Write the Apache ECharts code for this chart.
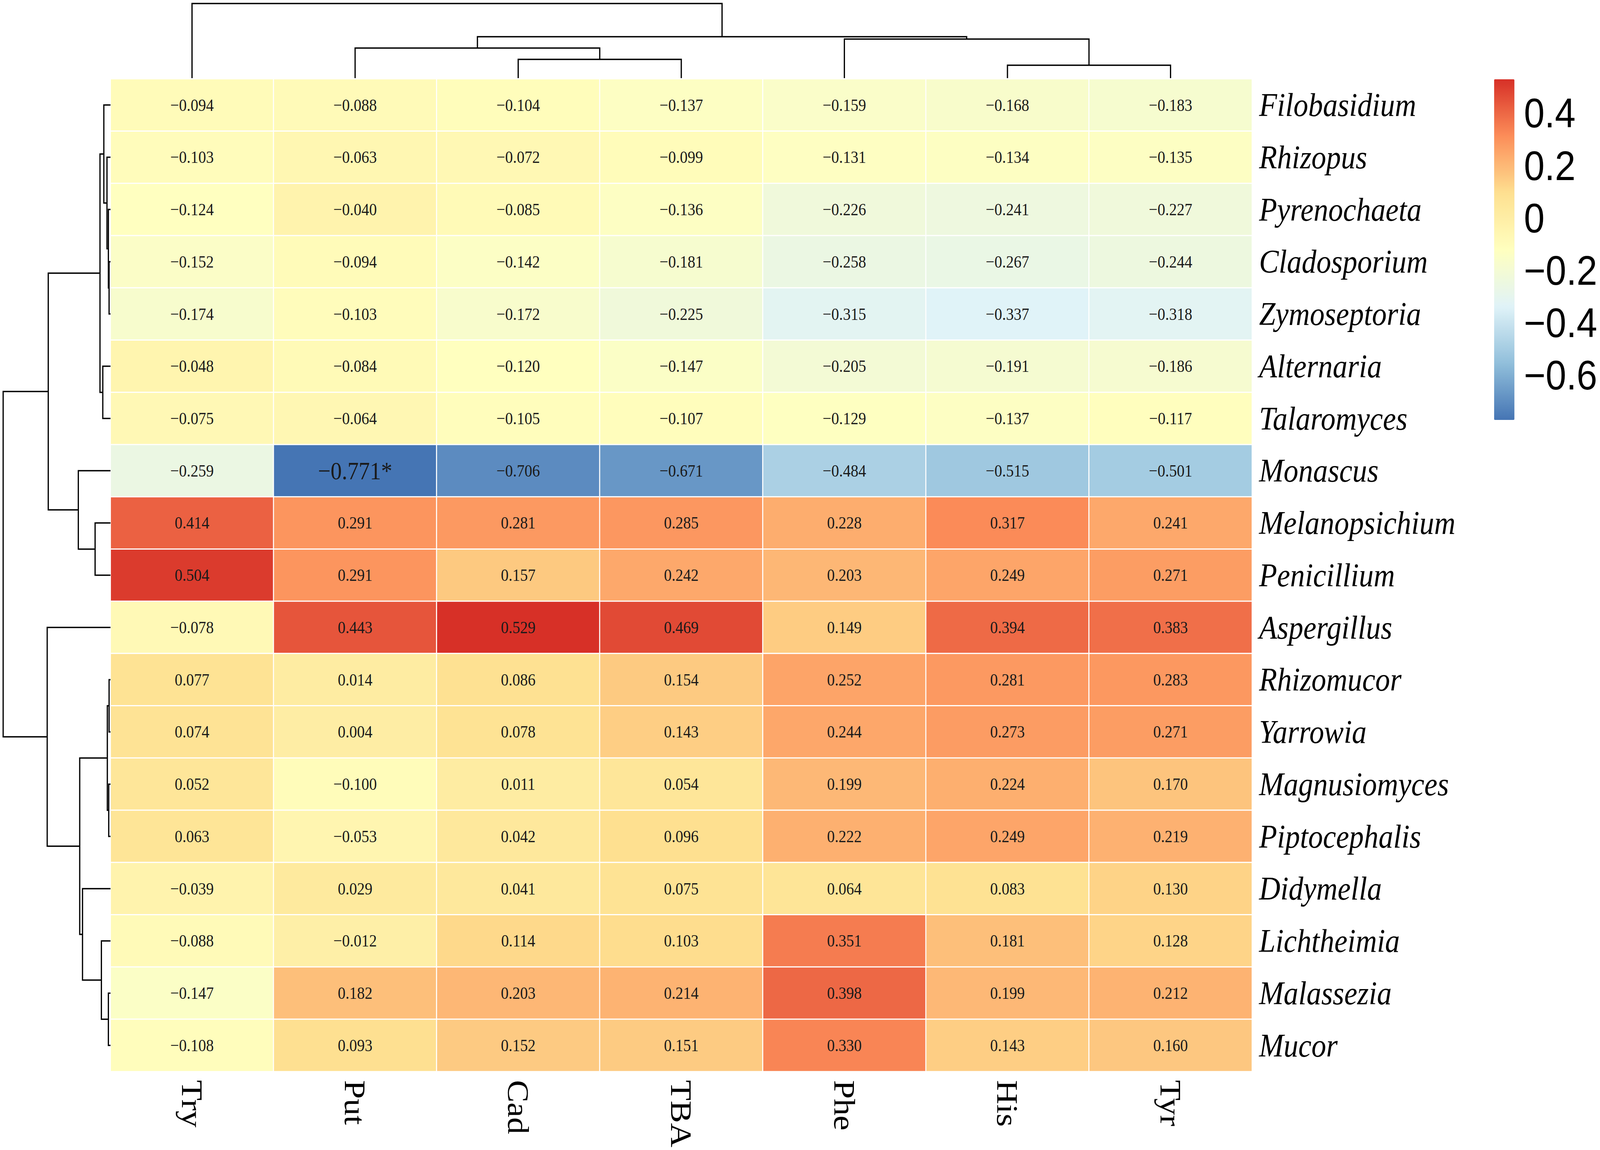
<!DOCTYPE html>
<html>
<head>
<meta charset="utf-8">
<script src="https://cdn.jsdelivr.net/npm/echarts@6/dist/echarts.min.js"></script>
<style>
html,body{margin:0;padding:0;background:#fff;overflow:hidden;}
#chart{width:4562px;height:2944px;transform-origin:0 0;}
</style>
</head>
<body>
<div id="chart"></div>
<script>
// ---------------- DATA ----------------
const columns = ['Try', 'Put', 'Cad', 'TBA', 'Phe', 'His', 'Tyr'];
const genera = ['Filobasidium', 'Rhizopus', 'Pyrenochaeta', 'Cladosporium', 'Zymoseptoria',
  'Alternaria', 'Talaromyces', 'Monascus', 'Melanopsichium', 'Penicillium', 'Aspergillus',
  'Rhizomucor', 'Yarrowia', 'Magnusiomyces', 'Piptocephalis', 'Didymella', 'Lichtheimia',
  'Malassezia', 'Mucor'];
// rows follow genera, columns follow columns
const correlations = [
  [-0.094, -0.088, -0.104, -0.137, -0.159, -0.168, -0.183],
  [-0.103, -0.063, -0.072, -0.099, -0.131, -0.134, -0.135],
  [-0.124, -0.040, -0.085, -0.136, -0.226, -0.241, -0.227],
  [-0.152, -0.094, -0.142, -0.181, -0.258, -0.267, -0.244],
  [-0.174, -0.103, -0.172, -0.225, -0.315, -0.337, -0.318],
  [-0.048, -0.084, -0.120, -0.147, -0.205, -0.191, -0.186],
  [-0.075, -0.064, -0.105, -0.107, -0.129, -0.137, -0.117],
  [-0.259, -0.771, -0.706, -0.671, -0.484, -0.515, -0.501],
  [0.414, 0.291, 0.281, 0.285, 0.228, 0.317, 0.241],
  [0.504, 0.291, 0.157, 0.242, 0.203, 0.249, 0.271],
  [-0.078, 0.443, 0.529, 0.469, 0.149, 0.394, 0.383],
  [0.077, 0.014, 0.086, 0.154, 0.252, 0.281, 0.283],
  [0.074, 0.004, 0.078, 0.143, 0.244, 0.273, 0.271],
  [0.052, -0.100, 0.011, 0.054, 0.199, 0.224, 0.170],
  [0.063, -0.053, 0.042, 0.096, 0.222, 0.249, 0.219],
  [-0.039, 0.029, 0.041, 0.075, 0.064, 0.083, 0.130],
  [-0.088, -0.012, 0.114, 0.103, 0.351, 0.181, 0.128],
  [-0.147, 0.182, 0.203, 0.214, 0.398, 0.199, 0.212],
  [-0.108, 0.093, 0.152, 0.151, 0.330, 0.143, 0.160]
];
const significant = [{ col: 'Put', row: 'Monascus', mark: '*' }];
const colorTicks = [0.4, 0.2, 0, -0.2, -0.4, -0.6];
const colorMin = -0.771;
const colorMax = 0.529;
const palette = ['#4575B4', '#91BFDB', '#E0F3F8', '#FFFFBF', '#FEE090', '#FC8D59', '#D73027'];
// dendrograms: leaf = index, node = [left, right, mergeHeight]
const colTree = [0, [[1, [2, 3, 48], 77], [4, [5, 6, 33], 100], 106], 191];
const rowTree = [
  [
    [[0, [1, [2, [3, 4, 4], 6], 10], 19], [5, 6, 22], 30],
    [7, [8, 9, 44], 92],
    178
  ],
  [
    10,
    [[[11, 12, 4], [13, 14, 5], 9], [15, [16, [17, 18, 6], 26], 80], 88],
    181
  ],
  307
];

// ---------------- helpers ----------------
const fmt = v => (v < 0 ? '\u2212' : '') + Math.abs(v).toFixed(3);
function walk(node, out) {
  if (typeof node === 'number') return { pos: node + 0.5, h: 0 };
  const a = walk(node[0], out), b = walk(node[1], out), h = node[2];
  out.push([a.pos, a.h, a.pos, h, b.pos, h, b.pos, b.h]);
  return { pos: (a.pos + b.pos) / 2, h: h };
}
const colSegs = []; const colRoot = walk(colTree, colSegs);
const rowSegsRaw = []; const rowRoot = walk(rowTree, rowSegsRaw);
// for the row dendrogram x = merge height, y = leaf position
const rowSegs = rowSegsRaw.map(s => [s[1], s[0], s[3], s[2], s[5], s[4], s[7], s[6]]);

const heatData = [];
genera.forEach((g, r) => {
  columns.forEach((c, ci) => {
    const v = correlations[r][ci];
    const sig = significant.find(s => s.col === c && s.row === g);
    const item = { value: [ci, r, v], sig: sig ? sig.mark : '' };
    if (sig) item.label = { fontSize: 64 };
    heatData.push(item);
  });
});

function dendroRender(params, api) {
  const pts = [];
  for (let i = 0; i < 8; i += 2) pts.push(api.coord([api.value(i), api.value(i + 1)]));
  return {
    type: 'polyline',
    shape: { points: pts },
    style: { stroke: '#000', lineWidth: 3.5, fill: null }
  };
}

// ---------------- layout (reference pixel frame 4562 x 2944) ----------------
const HM = { left: 315, top: 202, width: 3255, height: 2541 };
const CB = { left: 4260, top: 203, width: 58, height: 872 };

const el = document.getElementById('chart');
// fit the 4562x2944 design to the actual window
const sx = (window.innerWidth || 4562) / 4562;
const sy = (window.innerHeight || 2944) / 2944;
el.style.transform = 'scale(' + sx + ',' + sy + ')';

const chart = echarts.init(el, null, { renderer: 'svg' });
const serif = 'Liberation Serif';
const option = {
  backgroundColor: '#ffffff',
  animation: false,
  grid: [
    { left: HM.left, top: HM.top, width: HM.width, height: HM.height },
    { left: HM.left, top: 9, width: HM.width, height: HM.top - 2 - 9 },
    { left: 9, top: HM.top, width: HM.left - 9, height: HM.height },
    { left: CB.left, top: CB.top, width: CB.width, height: CB.height }
  ],
  xAxis: [
    {
      type: 'category', gridIndex: 0, data: columns, position: 'bottom',
      axisLine: { show: false }, axisTick: { show: false }, splitLine: { show: false },
      axisLabel: { rotate: -90, margin: 22, fontFamily: serif, fontSize: 86, color: '#000' }
    },
    { type: 'value', gridIndex: 1, min: 0, max: columns.length, show: false },
    { type: 'value', gridIndex: 2, min: 0, max: rowRoot.h, inverse: true, show: false },
    { type: 'value', gridIndex: 3, min: 0, max: 1, show: false }
  ],
  yAxis: [
    {
      type: 'category', gridIndex: 0, data: genera, inverse: true, position: 'right',
      axisLine: { show: false }, axisTick: { show: false }, splitLine: { show: false },
      axisLabel: { margin: 20, fontFamily: serif, fontStyle: 'italic', fontSize: 84, color: '#000' }
    },
    { type: 'value', gridIndex: 1, min: 0, max: colRoot.h, show: false },
    { type: 'value', gridIndex: 2, min: 0, max: genera.length, inverse: true, show: false },
    {
      type: 'value', gridIndex: 3, min: colorMin, max: colorMax, position: 'right',
      axisLine: { show: false }, axisTick: { show: false }, splitLine: { show: false },
      axisLabel: {
        customValues: colorTicks, margin: 27, fontFamily: 'Liberation Sans', fontSize: 106, color: '#000',
        formatter: v => (Math.abs(v) < 1e-9 ? '0' : (v < 0 ? '\u2212' : '') + Math.abs(v).toFixed(1))
      }
    }
  ],
  visualMap: {
    type: 'continuous', min: colorMin, max: colorMax, seriesIndex: 0, calculable: false,
    orient: 'vertical', left: CB.left, top: CB.top, itemWidth: CB.width, itemHeight: CB.height,
    padding: 0, text: null, showLabel: false, inRange: { color: palette }
  },
  series: [
    {
      type: 'heatmap', xAxisIndex: 0, yAxisIndex: 0, data: heatData,
      itemStyle: { borderColor: '#ffffff', borderWidth: 3 },
      label: {
        show: true, fontFamily: serif, fontSize: 44, color: '#1a1a1a',
        formatter: p => fmt(p.value[2]) + (p.data.sig || '')
      },
      emphasis: { disabled: true }
    },
    {
      type: 'custom', xAxisIndex: 1, yAxisIndex: 1, data: colSegs,
      encode: { x: [0, 2, 4, 6], y: [1, 3, 5, 7] }, renderItem: dendroRender, silent: true
    },
    {
      type: 'custom', xAxisIndex: 2, yAxisIndex: 2, data: rowSegs,
      encode: { x: [0, 2, 4, 6], y: [1, 3, 5, 7] }, renderItem: dendroRender, silent: true
    }
  ]
};
chart.setOption(option);
</script>
</body>
</html>
